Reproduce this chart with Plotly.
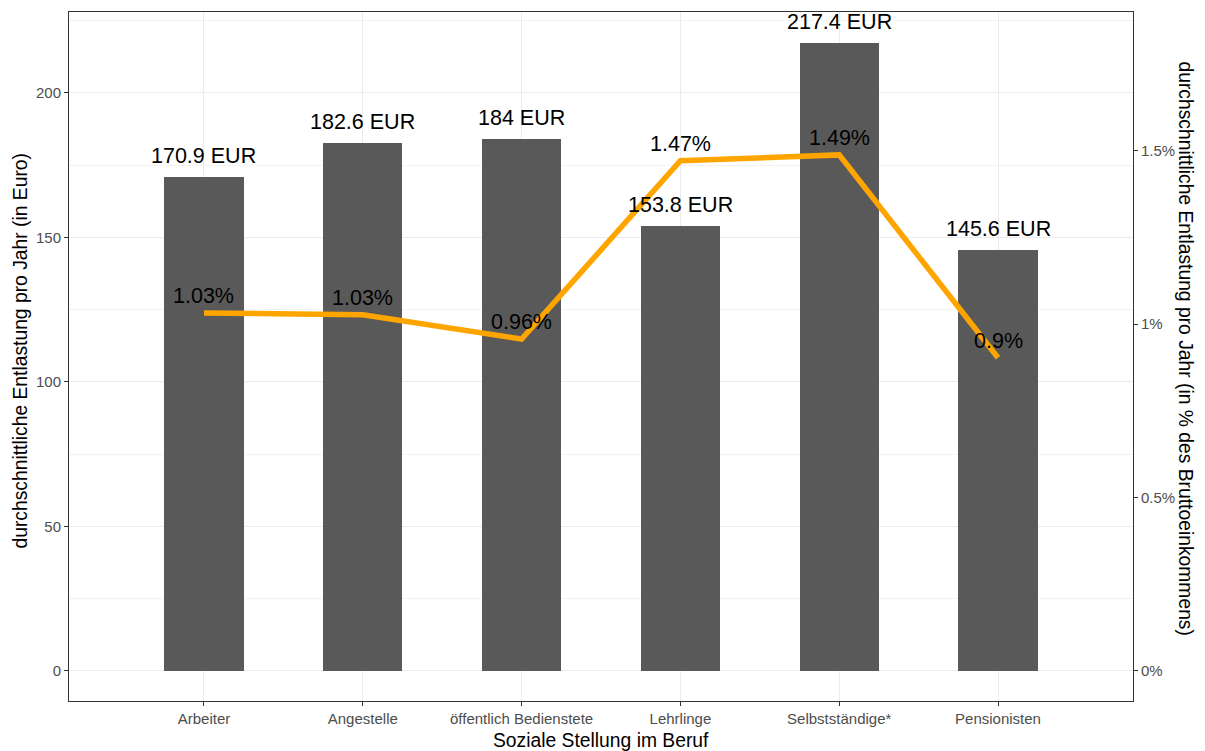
import plotly.graph_objects as go

categories = ["Arbeiter", "Angestelle", "öffentlich Bedienstete", "Lehrlinge", "Selbstständige*", "Pensionisten"]
eur_values = [170.9, 182.6, 184.0, 153.8, 217.4, 145.6]
pct_values = [1.032, 1.027, 0.957, 1.471, 1.488, 0.903]
eur_labels = ["170.9 EUR", "182.6 EUR", "184 EUR", "153.8 EUR", "217.4 EUR", "145.6 EUR"]
pct_labels = ["1.03%", "1.03%", "0.96%", "1.47%", "1.49%", "0.9%"]
left_ticks = [0, 50, 100, 150, 200]
right_ticks = [0, 0.5, 1, 1.5]
right_tick_text = ["0%", "0.5%", "1%", "1.5%"]

SCALE = 120.0  # 1% on right axis == 120 EUR on left axis
y_range = [-10.4, 228.0]
y2_range = [y_range[0] / SCALE, y_range[1] / SCALE]

FONT = "Liberation Sans, Arial, sans-serif"
LABEL_SIZE = 21.5
TICK_SIZE = 15
TITLE_SIZE = 19.3

fig = go.Figure()
fig.add_trace(go.Bar(
    x=categories, y=eur_values, width=0.5,
    marker=dict(color="#595959", line=dict(width=0)),
    showlegend=False, hoverinfo="skip",
))
fig.add_trace(go.Scatter(
    x=categories, y=pct_values, yaxis="y2", mode="lines",
    line=dict(color="#FFA500", width=5.5),
    showlegend=False, hoverinfo="skip",
))

annotations = []
for c, v, t in zip(categories, eur_values, eur_labels):
    annotations.append(dict(x=c, y=v, xref="x", yref="y", text=t, showarrow=False,
                            yanchor="middle", yshift=21,
                            font=dict(family=FONT, size=LABEL_SIZE, color="black")))
for c, v, t in zip(categories, pct_values, pct_labels):
    annotations.append(dict(x=c, y=v, xref="x", yref="y2", text=t, showarrow=False,
                            yanchor="middle", yshift=17,
                            font=dict(family=FONT, size=LABEL_SIZE, color="black")))

annotations.append(dict(x=0, y=0.5, xref="paper", yref="paper", xshift=-49, yshift=5,
                        text="durchschnittliche Entlastung pro Jahr (in Euro)",
                        textangle=-90, showarrow=False, xanchor="center", yanchor="middle",
                        font=dict(family=FONT, size=TITLE_SIZE, color="black")))
annotations.append(dict(x=1, y=0.5, xref="paper", yref="paper", xshift=52, yshift=8,
                        text="durchschnittliche Entlastung pro Jahr (in % des Bruttoeinkommens)",
                        textangle=90, showarrow=False, xanchor="center", yanchor="middle",
                        font=dict(family=FONT, size=TITLE_SIZE, color="black")))
annotations.append(dict(x=0.5, y=0, xref="paper", yref="paper", yshift=-39,
                        text="Soziale Stellung im Beruf",
                        showarrow=False, xanchor="center", yanchor="middle",
                        font=dict(family=FONT, size=TITLE_SIZE, color="black")))

fig.update_layout(
    width=1205, height=751,
    margin=dict(l=69, r=72, t=12, b=50),
    plot_bgcolor="white", paper_bgcolor="white",
    font=dict(family=FONT),
    xaxis=dict(
        type="category", range=[-0.85, 5.85],
        showgrid=True, gridcolor="#EBEBEB", gridwidth=1.1,
        showline=True, linecolor="#333333", linewidth=1, mirror=True,
        ticks="outside", ticklen=4, tickcolor="#333333",
        tickfont=dict(family=FONT, size=TICK_SIZE, color="#4D4D4D"),
        zeroline=False, fixedrange=True, automargin=False,
    ),
    yaxis=dict(
        range=y_range, tickvals=left_ticks,
        showgrid=True, gridcolor="#EBEBEB", gridwidth=1.1,
        minor=dict(tickvals=[25, 75, 125, 175, 225], showgrid=True, gridcolor="#F2F2F2", gridwidth=0.6),
        showline=True, linecolor="#333333", linewidth=1, mirror=True,
        ticks="outside", ticklen=4, tickcolor="#333333",
        tickfont=dict(family=FONT, size=TICK_SIZE, color="#4D4D4D"),
        zeroline=False, automargin=False,
    ),
    yaxis2=dict(
        overlaying="y", side="right", range=y2_range,
        tickvals=right_ticks, ticktext=right_tick_text,
        showgrid=False, zeroline=False, showline=False,
        ticks="outside", ticklen=4, tickcolor="#333333",
        tickfont=dict(family=FONT, size=TICK_SIZE, color="#4D4D4D"),
        automargin=False,
    ),
    annotations=annotations,
    bargap=0,
)

fig.write_html(
    "out.html",
    config={"displayModeBar": False},
    post_script="document.body.style.margin='0';document.body.style.overflow='hidden';",
)
